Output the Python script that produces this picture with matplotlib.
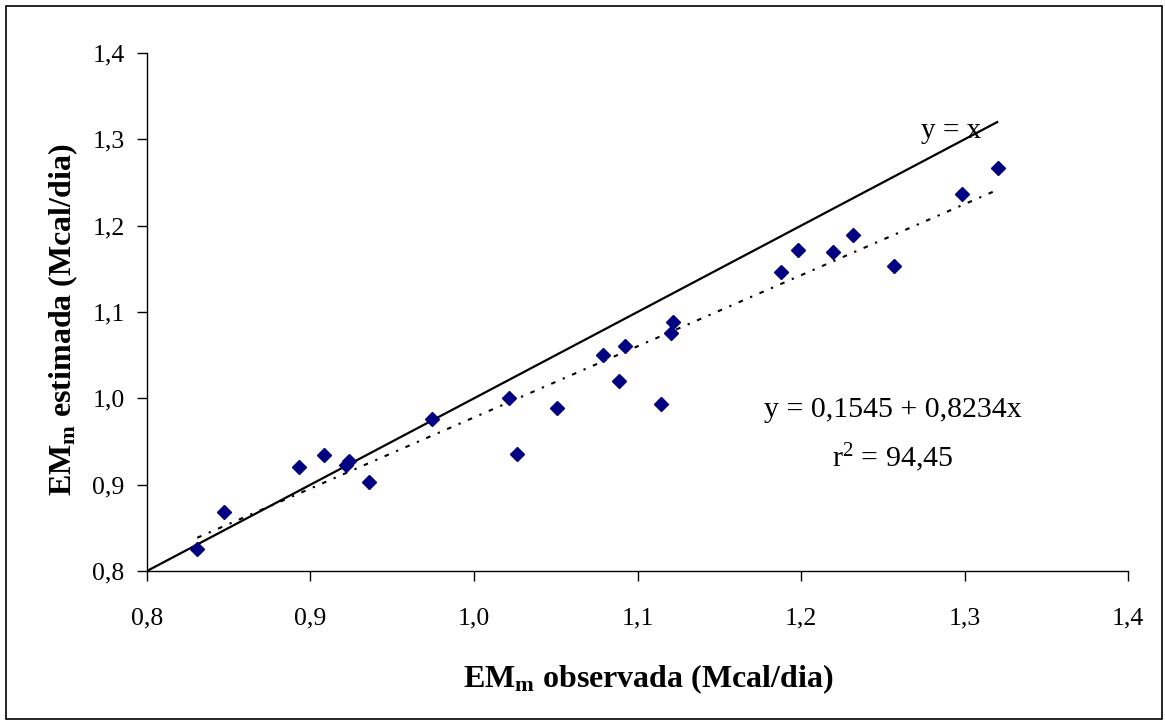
import matplotlib
matplotlib.use("Agg")
import matplotlib.pyplot as plt
from matplotlib.patches import Rectangle
import numpy as np

# Observed vs estimated maintenance metabolizable energy (Mcal/dia)
em_observada = [0.8307, 0.8472, 0.8931, 0.9084, 0.9215, 0.9237, 0.9355, 0.9742,
                1.0215, 1.0262, 1.0508, 1.0792, 1.0922, 1.0885, 1.1144, 1.1215,
                1.1203, 1.1875, 1.1981, 1.2193, 1.2320, 1.2570, 1.2983, 1.3206]
em_estimada = [0.8254, 0.8684, 0.9208, 0.9346, 0.9231, 0.9277, 0.9027, 0.9757,
               0.9999, 0.9361, 0.9884, 1.0499, 1.0610, 1.0200, 0.9930, 1.0883,
               1.0760, 1.1464, 1.1714, 1.1691, 1.1895, 1.1537, 1.2371, 1.2663]

# Fitted regression coefficients
intercepto = 0.1545
inclinacao = 0.8234
r2_texto = "94,45"

ticks = [0.8, 0.9, 1.0, 1.1, 1.2, 1.3, 1.4]
tick_labels = ["0,8", "0,9", "1,0", "1,1", "1,2", "1,3", "1,4"]

plt.rcParams["font.family"] = ["Liberation Serif", "DejaVu Serif"]
plt.rcParams["mathtext.fontset"] = "custom"
plt.rcParams["mathtext.rm"] = "Liberation Serif"
plt.rcParams["mathtext.it"] = "Liberation Serif:italic"
plt.rcParams["mathtext.bf"] = "Liberation Serif:bold"

W, H = 1165, 724
fig = plt.figure(figsize=(W / 100, H / 100), dpi=100)
ax = fig.add_axes([147 / W, 1 - 571 / H, (1128 - 147) / W, (571 - 53) / H])

# Identity line y = x
x_lo, x_hi = 0.8, max(em_observada)
ax.plot([x_lo, x_hi], [x_lo, x_hi], color="black", lw=1.6, solid_capstyle="butt")

# Regression line
xr = np.array([min(em_observada), max(em_observada)])
ax.plot(xr, intercepto + inclinacao * xr, color="black", lw=1.5,
        linestyle=(0, (2.2, 3.8, 1.1, 3.8)))

ax.plot(em_observada, em_estimada, linestyle="none", marker="D", markersize=7.3,
        color="#000080", markeredgecolor="#000080", zorder=3)

ax.set_xlim(0.8, 1.4)
ax.set_ylim(0.8, 1.4)
ax.set_xticks(ticks)
ax.set_xticklabels(tick_labels)
ax.set_yticks(ticks)
ax.set_yticklabels(tick_labels)
ax.tick_params(axis="both", direction="out", length=7.2, width=1, labelsize=18.5)
ax.tick_params(axis="x", pad=19)
ax.tick_params(axis="y", pad=9)
for side in ("top", "right"):
    ax.spines[side].set_visible(False)
for side in ("left", "bottom"):
    ax.spines[side].set_linewidth(1)

# Axis titles
fig.text(648 / W, 1 - 687 / H, r"$\mathbf{EM_m}$ observada (Mcal/dia)",
         fontsize=23, fontweight="bold", ha="center", va="baseline")
fig.text(71 / W, 1 - 320 / H, r"$\mathbf{EM_m}$ estimada (Mcal/dia)",
         fontsize=23, fontweight="bold", ha="center", va="baseline",
         rotation=90, rotation_mode="anchor")

ax.text(1.3104, 1.3017, "y = x", fontsize=21, ha="right", va="baseline")
ax.text(1.256, 0.978, "y = 0,1545 + 0,8234x", fontsize=21.5, ha="center", va="baseline")
ax.text(1.256, 0.921, r"r$^2$ = " + r2_texto, fontsize=21.5, ha="center", va="baseline")

fig.patches.append(Rectangle((6 / W, 1 - 719 / H), 1156 / W, 713 / H,
                             transform=fig.transFigure, fill=False,
                             edgecolor="black", lw=1.2))

fig.savefig("out.png", dpi=100)
